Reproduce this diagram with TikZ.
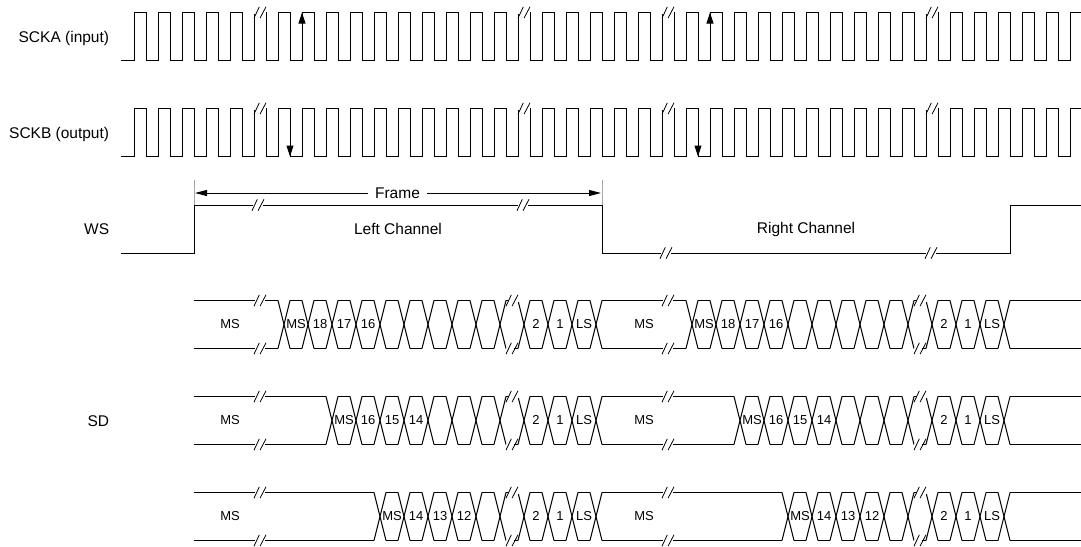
\documentclass[tikz,border=0pt]{standalone}
\usepackage{fontspec}
\setmainfont{Liberation Sans}
\usetikzlibrary{arrows.meta}
\tikzset{
  sigline/.style={line width=1pt,line join=miter},
  brkline/.style={line width=0.8pt},
  tipline/.style={line width=1pt,-{Triangle[length=11pt,width=7pt]}},
  dimline/.style={line width=1pt,-{Triangle[length=12pt,width=6pt]},shorten >=0.5pt},
  lab/.style={font=\fontsize{15.5}{18}\selectfont,inner sep=1pt},
  datalab/.style={font=\fontsize{13}{15}\selectfont,inner sep=0pt,text height=9.3pt,text depth=0pt,yshift=1pt},
  rowlab/.style={lab,anchor=base east}
}
% x y gap-from gap-to
\newcommand{\brkmark}[4]{%
  \draw [white,line width=2pt] (#3,#2)-- (#4,#2);
  \draw [brkline] (#1-6,#2+5.7)-- (#1-0.7,#2-5.7);
  \draw [brkline] (#1,#2+5.7)-- (#1+6,#2-5.7);
}
\newcommand{\xcross}[2]{%
  \draw [sigline] (#1-6,#2-24)-- (#1+6,#2+24);
  \draw [sigline] (#1-6,#2+24)-- (#1+6,#2-24);
}
\begin{document}
\begin{tikzpicture}[x=1pt,y=-1pt]
\useasboundingbox (0,0) rectangle (1081,546);
\node [rowlab] (sckalab) at (110.3,42.5) {SCKA (input)};
\node [rowlab] (sckblab) at (110.3,138) {SCKB (output)};
\node [rowlab] (wslab) at (110.3,234.5) {WS};
\node [rowlab] (sdlab) at (110.3,426.5) {SD};
% clocks
\foreach \y in {60.5,156.5} {
  \draw [sigline] (121,\y) \foreach \k in {0,...,38} { -- (134+24*\k,\y) -- ++(0,-48) -- ++(12,0) -- ++(0,48) } -- (1070,\y) -- ++(0,-48) -- (1081,\y-48);
  \foreach \x in {260,524,668,932} {\brkmark{\x}{\y-48}{\x-6}{\x+6}}
}
\coordinate (ckaup) at (302,60.5);
\coordinate (ckatop) at (302,12.5);
\coordinate (ckbup) at (710,60.5);
\coordinate (ckbtop) at (710,12.5);
\coordinate (ckchigh) at (290,108.5);
\coordinate (ckclow) at (290,156.5);
\coordinate (ckdhigh) at (698,108.5);
\coordinate (ckdlow) at (698,156.5);
\draw [tipline] (ckaup)-- (ckatop);
\draw [tipline] (ckbup)-- (ckbtop);
\draw [tipline] (ckchigh)-- (ckclow);
\draw [tipline] (ckdhigh)-- (ckdlow);
% word select
\draw [sigline] (121,253)-- (194,253)-- (194,205)-- (602,205)-- (602,253)-- (1010,253)-- (1010,205)-- (1081,205);
\foreach \x in {258,523} {\brkmark{\x}{205}{\x-5}{\x+5}}
\foreach \x in {666,931} {\brkmark{\x}{253}{\x-5}{\x+5}}
\draw [gray!70,line width=1pt] (194,180)-- (194,205);
\draw [gray!70,line width=1pt] (602,180)-- (602,205);
\coordinate (frameleft) at (194.5,193);
\coordinate (frameright) at (601.5,193);
\node [lab,inner sep=7pt] (frame) at (397.5,193) {Frame};
\draw [dimline] (frame)-- (frameleft);
\draw [dimline] (frame)-- (frameright);
\node [lab] (leftch) at (398,229) {Left Channel};
\node [lab] (rightch) at (806,229) {Right Channel};
% data rows
\foreach \rowy/\xa/\lb/\lc/\ld in {324.5/284/18/17/16,420.5/332/16/15/14,516.5/380/14/13/12} {
  \foreach \ya in {\rowy-24,\rowy+24} {
    \draw [sigline] (193.5,\ya)-- (\xa-6,\ya);
    \draw [sigline] (602,\ya)-- (\xa+402,\ya);
    \draw [sigline] (1010,\ya)-- (1081,\ya);
    \foreach \x in {260,668} {\brkmark{\x}{\ya}{\x-5}{\x+5}}
  }
  \foreach \f in {0,408} {
    \pgfmathtruncatemacro{\xs}{\xa+\f}
    \pgfmathtruncatemacro{\xn}{\xa+\f+24}
    \pgfmathtruncatemacro{\xe}{572+\f}
    \foreach \c in {\xs,\xn,...,\xe} {
      \xcross{\c}{\rowy}
      \draw [sigline] (\c+6,\rowy-24)-- (\c+18,\rowy-24);
      \draw [sigline] (\c+6,\rowy+24)-- (\c+18,\rowy+24);
    }
    \xcross{596+\f}{\rowy}
    \brkmark{512+\f}{\rowy-24}{509+\f}{518.5+\f}
    \brkmark{512+\f}{\rowy+24}{505.5+\f}{514+\f}
    \node [datalab] at (\xa+\f+12,\rowy) {MS};
    \node [datalab] at (\xa+\f+36,\rowy) {\lb};
    \node [datalab] at (\xa+\f+60,\rowy) {\lc};
    \node [datalab] at (\xa+\f+84,\rowy) {\ld};
    \node [datalab] at (536+\f,\rowy) {2};
    \node [datalab] at (560+\f,\rowy) {1};
    \node [datalab] at (584+\f,\rowy) {LS};
  }
  \node [datalab] at (230,\rowy) {MS};
  \node [datalab] at (644,\rowy) {MS};
}
\end{tikzpicture}
\end{document}
